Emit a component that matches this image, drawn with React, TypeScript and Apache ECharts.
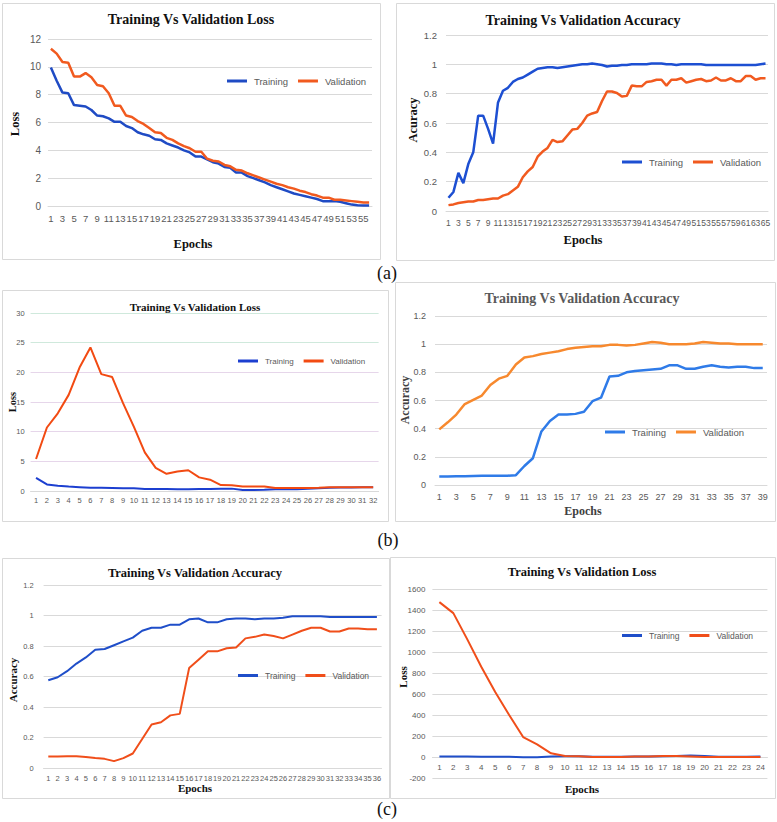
import React, { useEffect, useRef } from "react";
import * as echarts from "echarts";

const W = 777;
const H = 822;

const epochs = (n: number) => Array.from({ length: n }, (_, i) => String(i + 1));

// (a) left – loss
const a1Epochs = epochs(56);
const a1Training = [
  9.95, 9.0, 8.15, 8.1, 7.25, 7.2, 7.15, 6.9, 6.5, 6.45,
  6.3, 6.05, 6.05, 5.75, 5.6, 5.3, 5.15, 5.05, 4.8, 4.75,
  4.5, 4.35, 4.2, 4.0, 3.85, 3.55, 3.55, 3.35, 3.15, 3.05,
  2.8, 2.75, 2.4, 2.4, 2.15, 2.0, 1.85, 1.7, 1.5, 1.35,
  1.2, 1.05, 0.9, 0.8, 0.7, 0.6, 0.5, 0.35, 0.35, 0.35,
  0.3, 0.2, 0.1, 0.05, 0.03, 0.03,
];
const a1Validation = [
  11.3, 10.95, 10.35, 10.3, 9.3, 9.3, 9.55, 9.25, 8.7, 8.6,
  8.1, 7.2, 7.2, 6.5, 6.4, 6.1, 5.9, 5.6, 5.3, 5.25,
  4.9, 4.75, 4.5, 4.3, 4.15, 3.9, 3.9, 3.4, 3.25, 3.2,
  2.95, 2.85, 2.6, 2.55, 2.35, 2.2, 2.05, 1.9, 1.75, 1.6,
  1.5, 1.35, 1.25, 1.1, 1.0, 0.85, 0.75, 0.6, 0.6, 0.45,
  0.45, 0.4, 0.35, 0.3, 0.25, 0.25,
];

// (a) right – accuracy
const a2Epochs = epochs(65);
const a2Training = [
  0.09, 0.13, 0.26, 0.19, 0.32, 0.4, 0.65, 0.65, 0.56, 0.46,
  0.74, 0.82, 0.84, 0.88, 0.9, 0.91, 0.93, 0.95, 0.97, 0.975,
  0.98, 0.98, 0.975, 0.98, 0.985, 0.99, 0.995, 1.0, 1.0, 1.005,
  1.0, 0.995, 0.985, 0.99, 0.99, 0.995, 0.995, 1.0, 1.0, 1.0,
  1.0, 1.005, 1.005, 1.005, 1.0, 1.0, 0.995, 1.0, 1.0, 1.0,
  1.0, 1.0, 0.995, 0.995, 0.995, 0.995, 0.995, 0.995, 0.995, 0.995,
  0.995, 0.995, 0.995, 1.0, 1.005,
];
const a2Validation = [
  0.04, 0.045, 0.055, 0.06, 0.065, 0.065, 0.075, 0.075, 0.08, 0.085,
  0.085, 0.105, 0.115, 0.14, 0.165, 0.23, 0.27, 0.3, 0.37, 0.405,
  0.43, 0.485, 0.47, 0.475, 0.515, 0.555, 0.56, 0.6, 0.65, 0.665,
  0.675, 0.75, 0.815, 0.815, 0.805, 0.78, 0.785, 0.855, 0.85, 0.85,
  0.88, 0.885, 0.895, 0.895, 0.855, 0.895, 0.895, 0.905, 0.875, 0.885,
  0.895, 0.9, 0.885, 0.89, 0.91, 0.89, 0.89, 0.905, 0.885, 0.885,
  0.92, 0.92, 0.895, 0.905, 0.905,
];

// (b) left – loss
const b1Epochs = epochs(32);
const b1Training = [
  2.2, 1.1, 0.9, 0.75, 0.65, 0.55, 0.55, 0.5, 0.45, 0.45,
  0.35, 0.35, 0.35, 0.3, 0.3, 0.35, 0.35, 0.4, 0.4, 0.15,
  0.15, 0.2, 0.3, 0.3, 0.3, 0.4, 0.45, 0.55, 0.6, 0.6,
  0.65, 0.65,
];
const b1Validation = [
  5.4, 10.7, 13.1, 16.2, 20.8, 24.2, 19.7, 19.2, 14.8, 10.8,
  6.5, 3.9, 2.9, 3.3, 3.5, 2.3, 1.9, 1.0, 0.95, 0.75,
  0.75, 0.75, 0.5, 0.5, 0.5, 0.5, 0.55, 0.65, 0.65, 0.65,
  0.65, 0.65,
];

// (b) right – accuracy
const b2Epochs = epochs(39);
const b2Training = [
  0.06, 0.06, 0.062, 0.062, 0.064, 0.066, 0.066, 0.066, 0.066, 0.07,
  0.135, 0.19, 0.38, 0.455, 0.5, 0.5, 0.505, 0.52, 0.595, 0.62,
  0.77, 0.775, 0.8, 0.81, 0.815, 0.82, 0.825, 0.85, 0.85, 0.825,
  0.825, 0.84, 0.85, 0.84, 0.835, 0.84, 0.84, 0.83, 0.83,
];
const b2Validation = [
  0.395, 0.445, 0.5, 0.575, 0.605, 0.635, 0.71, 0.755, 0.775, 0.855,
  0.905, 0.915, 0.93, 0.94, 0.95, 0.965, 0.975, 0.98, 0.985, 0.985,
  0.995, 0.995, 0.99, 0.995, 1.005, 1.015, 1.01, 1.0, 1.0, 1.0,
  1.005, 1.015, 1.01, 1.005, 1.005, 1.0, 1.0, 1.0, 1.0,
];

// (c) left – accuracy
const c1Epochs = epochs(36);
const c1Training = [
  0.575, 0.595, 0.635, 0.685, 0.725, 0.775, 0.78, 0.805, 0.83, 0.855,
  0.9, 0.92, 0.92, 0.94, 0.94, 0.975, 0.98, 0.955, 0.955, 0.975,
  0.98, 0.98, 0.975, 0.98, 0.98, 0.985, 0.995, 0.995, 0.995, 0.995,
  0.99, 0.99, 0.99, 0.99, 0.99, 0.99,
];
const c1Validation = [
  0.075, 0.075, 0.077, 0.077, 0.072, 0.065, 0.06, 0.045, 0.065, 0.095,
  0.19, 0.285, 0.3, 0.345, 0.355, 0.655, 0.71, 0.765, 0.765, 0.785,
  0.79, 0.85, 0.86, 0.875, 0.865, 0.85, 0.875, 0.9, 0.92, 0.92,
  0.895, 0.895, 0.915, 0.915, 0.91, 0.91,
];

// (c) right – loss
const c2Epochs = epochs(24);
const c2Training = [
  5, 5, 5, 2, 2, 2, -2, -2, 5, 8, 8, 2, 2, 2, 5, 5, 8, 10, 15, 10, 2, 2, 2, 5,
];
const c2Validation = [
  1475, 1370, 1120, 860, 620, 400, 190, 120, 35, 10,
  8, 0, 0, 0, 5, 5, 10, 10, 5, 0,
  0, 0, 0, 0,
];

const SERIF = "'Liberation Serif', 'Times New Roman', serif";
const SANS = "'Liberation Sans', Arial, sans-serif";
const GRID_GRAY = "#d9d9d9";
const LABEL_GRAY = "#595959";

type Panel = {
  grid: { left: number; top: number; width: number; height: number };
  cats: string[];
  labelInterval: number;
  yMin: number;
  yMax: number;
  yStep: number;
  train: number[];
  val: number[];
  colors: [string, string];
  lineWidth: number;
  yFont: number;
  xFont: number;
  xMargin: number;
  yMargin: number;
  legendPos: { left: number; top: number };
  legendFont: number;
  splitColors?: string[];
  xOffset?: number;
};

const panels: Panel[] = [
  {
    grid: { left: 48, top: 39, width: 324, height: 167 },
    cats: a1Epochs, labelInterval: 1, yMin: 0, yMax: 12, yStep: 2,
    train: a1Training, val: a1Validation, colors: ["#1f4bc4", "#f15a1f"], lineWidth: 2.5,
    yFont: 10, xFont: 9.5, xMargin: 7, yMargin: 7,
    legendPos: { left: 227, top: 76 }, legendFont: 9.5,
  },
  {
    grid: { left: 446, top: 35, width: 322, height: 176 },
    cats: a2Epochs, labelInterval: 1, yMin: 0, yMax: 1.2, yStep: 0.2,
    train: a2Training, val: a2Validation, colors: ["#1d4fd2", "#f15a1f"], lineWidth: 2.5,
    yFont: 9.5, xFont: 8.5, xMargin: 7, yMargin: 9,
    legendPos: { left: 622, top: 157 }, legendFont: 9.5,
  },
  {
    grid: { left: 30.6, top: 313, width: 348, height: 178 },
    cats: b1Epochs, labelInterval: 0, yMin: 0, yMax: 30, yStep: 5,
    train: b1Training, val: b1Validation, colors: ["#1c3fd0", "#f24a12"], lineWidth: 2,
    yFont: 7.5, xFont: 7.5, xMargin: 5, yMargin: 6,
    legendPos: { left: 238, top: 357 }, legendFont: 8,
    splitColors: ["#e6d6ea", "#e6d6ea", "#e6d6ea", "#e6d6ea", "#e6d6ea", "#cfe9dc", "#cfe9dc"],
  },
  {
    grid: { left: 435, top: 316, width: 332, height: 169 },
    cats: b2Epochs, labelInterval: 1, yMin: 0, yMax: 1.2, yStep: 0.2,
    train: b2Training, val: b2Validation, colors: ["#2f7be8", "#f7892e"], lineWidth: 2.5,
    yFont: 9, xFont: 9, xMargin: 7, yMargin: 9,
    legendPos: { left: 605, top: 427 }, legendFont: 9.5,
  },
  {
    grid: { left: 43.6, top: 585, width: 338, height: 183 },
    cats: c1Epochs, labelInterval: 0, yMin: 0, yMax: 1.2, yStep: 0.2,
    train: c1Training, val: c1Validation, colors: ["#1f4ec9", "#f04e1a"], lineWidth: 2,
    yFont: 7.5, xFont: 7.5, xMargin: 6, yMargin: 10,
    legendPos: { left: 238, top: 671 }, legendFont: 8.5,
  },
  {
    grid: { left: 432.4, top: 589, width: 335, height: 189 },
    cats: c2Epochs, labelInterval: 0, yMin: -200, yMax: 1600, yStep: 200,
    train: c2Training, val: c2Validation, colors: ["#1f4ec9", "#f04e1a"], lineWidth: 2,
    yFont: 8, xFont: 8, xMargin: 6, yMargin: 7,
    legendPos: { left: 622, top: 631 }, legendFont: 8.5,
    xOffset: -21,
  },
];

type T = { text: string; x: number; y: number; size: number; bold?: boolean; rot?: boolean; color?: string };
const texts: T[] = [
  { text: "Training Vs Validation Loss", x: 191, y: 19, size: 14, bold: true },
  { text: "Loss", x: 15, y: 124, size: 12.5, bold: true, rot: true },
  { text: "Epochs", x: 193, y: 244, size: 12.5, bold: true },
  { text: "Training Vs Validation Accuracy", x: 583, y: 20, size: 14, bold: true },
  { text: "Acuracy", x: 413, y: 120, size: 12.5, bold: true, rot: true },
  { text: "Epochs", x: 583, y: 240, size: 12.5, bold: true },
  { text: "(a)", x: 387, y: 273, size: 18 },

  { text: "Training Vs Validation Loss", x: 195, y: 307, size: 11, bold: true },
  { text: "Loss", x: 12, y: 402, size: 10.5, bold: true, rot: true },
  { text: "Training Vs Validation Accuracy", x: 582, y: 298, size: 14, bold: true, color: "#595959" },
  { text: "Accuracy", x: 405, y: 400, size: 12, bold: true, rot: true, color: "#404040" },
  { text: "Epochs", x: 583, y: 511, size: 12, bold: true, color: "#404040" },
  { text: "(b)", x: 388, y: 540, size: 18 },

  { text: "Training Vs Validation Accuracy", x: 195, y: 573, size: 12.5, bold: true },
  { text: "Accuracy", x: 13, y: 680, size: 11, bold: true, rot: true },
  { text: "Epochs", x: 195, y: 788, size: 11, bold: true },
  { text: "Training Vs Validation Loss", x: 582, y: 572, size: 12.5, bold: true },
  { text: "Loss", x: 403, y: 677, size: 11, bold: true, rot: true },
  { text: "Epochs", x: 582, y: 789, size: 11, bold: true },
  { text: "(c)", x: 387, y: 809, size: 18 },
];

const borders = [
  { x: 2.5, y: 3.5, w: 378, h: 256 },
  { x: 396.5, y: 3.5, w: 378, h: 257 },
  { x: 2.5, y: 290.5, w: 386, h: 231 },
  { x: 395.5, y: 282.5, w: 380, h: 239 },
  { x: 2.5, y: 558.5, w: 387, h: 240 },
  { x: 390.5, y: 557.5, w: 385, h: 241 },
];

function buildOption() {
  const grid: any[] = [];
  const xAxis: any[] = [];
  const yAxis: any[] = [];
  const series: any[] = [];
  const legend: any[] = [];
  panels.forEach((p, i) => {
    grid.push({ ...p.grid, containLabel: false });
    xAxis.push({
      type: "category",
      gridIndex: i,
      data: p.cats,
      boundaryGap: true,
      position: "bottom",
      offset: p.xOffset ?? 0,
      axisLine: { show: true, onZero: false, lineStyle: { color: GRID_GRAY, width: 1 } },
      axisTick: { show: false },
      axisLabel: {
        interval: p.labelInterval,
        fontSize: p.xFont,
        color: LABEL_GRAY,
        fontFamily: SANS,
        margin: p.xMargin,
      },
      splitLine: { show: false },
    });
    yAxis.push({
      type: "value",
      gridIndex: i,
      min: p.yMin,
      max: p.yMax,
      interval: p.yStep,
      axisLine: { show: false },
      axisTick: { show: false },
      axisLabel: {
        fontSize: p.yFont,
        color: LABEL_GRAY,
        fontFamily: SANS,
        margin: p.yMargin,
        formatter: (v: number) => String(Math.round(v * 1000) / 1000),
      },
      splitLine: { show: true, lineStyle: { color: p.splitColors ?? GRID_GRAY, width: 1 } },
    });
    series.push({
      type: "line",
      name: `Training_${i}`,
      xAxisIndex: i,
      yAxisIndex: i,
      data: p.train,
      symbol: "none",
      lineStyle: { color: p.colors[0], width: p.lineWidth },
      itemStyle: { color: p.colors[0] },
    });
    series.push({
      type: "line",
      name: `Validation_${i}`,
      xAxisIndex: i,
      yAxisIndex: i,
      data: p.val,
      symbol: "none",
      lineStyle: { color: p.colors[1], width: p.lineWidth },
      itemStyle: { color: p.colors[1] },
    });
    legend.push({
      left: p.legendPos.left,
      top: p.legendPos.top,
      padding: 0,
      orient: "horizontal",
      itemGap: 10,
      itemWidth: 20,
      itemHeight: 3,
      icon: "rect",
      selectedMode: false,
      data: [`Training_${i}`, `Validation_${i}`],
      formatter: (n: string) => n.split("_")[0],
      textStyle: { fontSize: p.legendFont, color: LABEL_GRAY, fontFamily: SANS, padding: [0, 0, 0, 2] },
    });
  });

  const graphic: any[] = [];
  borders.forEach((b) => {
    graphic.push({
      type: "rect",
      shape: { x: b.x, y: b.y, width: b.w, height: b.h },
      style: { fill: "none", stroke: "#d9d9d9", lineWidth: 1 },
      z: -1,
      silent: true,
    });
  });
  texts.forEach((t) => {
    graphic.push({
      type: "text",
      x: t.x,
      y: t.y,
      rotation: t.rot ? Math.PI / 2 : 0,
      style: {
        text: t.text,
        x: 0,
        y: 0,
        align: "center",
        verticalAlign: "middle",
        fill: t.color ?? "#111",
        font: `${t.bold ? "bold " : ""}${t.size}px ${SERIF}`,
      },
      silent: true,
    });
  });

  return {
    animation: false,
    backgroundColor: "#ffffff",
    grid,
    xAxis,
    yAxis,
    series,
    legend,
    graphic,
  };
}

export default function App() {
  const ref = useRef<HTMLDivElement>(null);
  useEffect(() => {
    if (!ref.current) return;
    const chart = echarts.init(ref.current, null, { renderer: "svg" });
    chart.setOption(buildOption() as any);
    return () => chart.dispose();
  }, []);
  return (
    <div
      ref={ref}
      style={{ position: "absolute", left: 0, top: 0, width: W, height: H, background: "#fff" }}
    />
  );
}
